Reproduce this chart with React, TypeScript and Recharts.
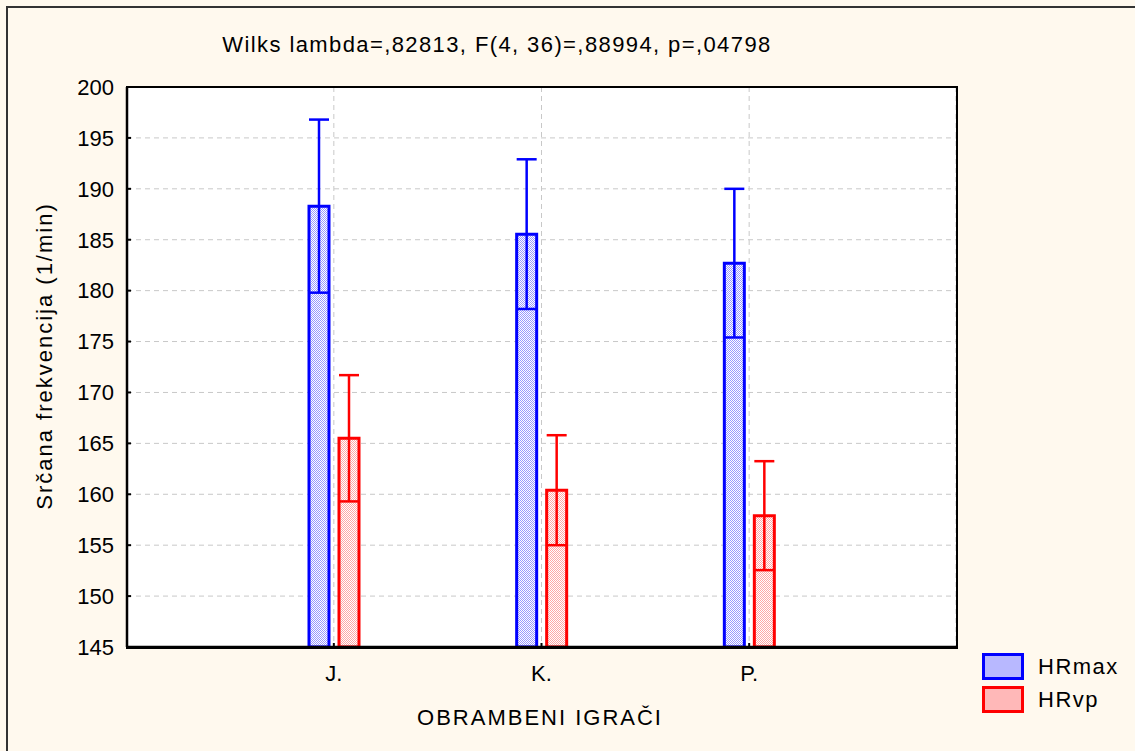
import { BarChart, Bar, XAxis, YAxis, CartesianGrid, ErrorBar } from 'recharts';

const categories = ['J.', 'K.', 'P.'];
const hrMax = [188.3, 185.55, 182.7];
const hrMaxErr = [8.5, 7.35, 7.3];
const hrVp = [165.5, 160.4, 157.9];
const hrVpErr = [6.2, 5.4, 5.35];
const yTicks = [145, 150, 155, 160, 165, 170, 175, 180, 185, 190, 195, 200];
const seriesNames = ['HRmax', 'HRvp'];
const seriesColors = ['#0000ff', '#ff0000'];
const swatchFills = ['#b8b8ff', '#ffb8b8'];

const title = 'Wilks lambda=,82813, F(4, 36)=,88994, p=,04798';
const yLabel = 'Srčana frekvencija (1/min)';
const xLabel = 'OBRAMBENI IGRAČI';

const FONT = '"Liberation Sans", Arial, sans-serif';

const data = categories.map((name, i) => ({
  name,
  hrMax: hrMax[i],
  hrMaxErr: hrMaxErr[i],
  hrVp: hrVp[i],
  hrVpErr: hrVpErr[i],
}));

function Swatch({ color, fill }: { color: string; fill: string }) {
  return (
    <svg width={42} height={27} style={{ display: 'block' }}>
      <rect x={1.5} y={1.5} width={39} height={24} fill={fill} stroke={color} strokeWidth={3} />
    </svg>
  );
}

export default function App() {
  return (
    <div
      style={{
        position: 'absolute',
        left: 0,
        top: 0,
        width: 1135,
        height: 751,
        background: '#fff9ee',
        overflow: 'hidden',
        fontFamily: FONT,
        color: '#000',
      }}
    >
      {/* outer frame */}
      <div
        style={{
          position: 'absolute',
          left: 6,
          top: 6,
          width: 1200,
          height: 800,
          borderLeft: '2px solid #333',
          borderTop: '2px solid #333',
        }}
      />
      <div style={{ position: 'absolute', left: 0, top: 0 }}>
        <BarChart
          width={1135}
          height={751}
          data={data}
          margin={{ top: 87, right: 179, bottom: 64, left: 67 }}
          barSize={20}
          barGap={10}
        >
          <defs>
            <pattern id="patBlue" width={2} height={2} patternUnits="userSpaceOnUse">
              <rect width={2} height={2} fill="#fff" />
              <rect width={1} height={1} fill="#0000ff" fillOpacity={0.4} />
              <rect x={1} y={1} width={1} height={1} fill="#0000ff" fillOpacity={0.4} />
            </pattern>
            <pattern id="patRed" width={2} height={2} patternUnits="userSpaceOnUse">
              <rect width={2} height={2} fill="#fff" />
              <rect width={1} height={1} fill="#ff0000" fillOpacity={0.35} />
              <rect x={1} y={1} width={1} height={1} fill="#ff0000" fillOpacity={0.35} />
            </pattern>
          </defs>
          <CartesianGrid stroke="#c8c8c8" strokeDasharray="5 4" fill="#ffffff" />
          <XAxis
            dataKey="name"
            padding={{ left: 103, right: 103 }}
            height={40}
            tickSize={-4}
            tickMargin={22}
            tickLine={{ stroke: '#000', strokeWidth: 2 }}
            axisLine={{ stroke: '#000', strokeWidth: 2.5 }}
            tick={{ fill: '#000', fontSize: 22, fontFamily: FONT }}
          />
          <YAxis
            domain={[145, 200]}
            ticks={yTicks}
            allowDataOverflow
            width={60}
            tickSize={-4}
            tickMargin={17}
            tickLine={{ stroke: '#000', strokeWidth: 2 }}
            axisLine={{ stroke: '#000', strokeWidth: 2.5 }}
            tick={{ fill: '#000', fontSize: 22, fontFamily: FONT }}
          />
          <Bar
            dataKey="hrMax"
            name={seriesNames[0]}
            fill="url(#patBlue)"
            stroke={seriesColors[0]}
            strokeWidth={3}
            isAnimationActive={false}
          >
            <ErrorBar dataKey="hrMaxErr" direction="y" width={10} stroke={seriesColors[0]} strokeWidth={2.5} />
          </Bar>
          <Bar
            dataKey="hrVp"
            name={seriesNames[1]}
            fill="url(#patRed)"
            stroke={seriesColors[1]}
            strokeWidth={3}
            isAnimationActive={false}
          >
            <ErrorBar dataKey="hrVpErr" direction="y" width={10} stroke={seriesColors[1]} strokeWidth={2.5} />
          </Bar>
        </BarChart>
      </div>

      {/* plot frame */}
      <div
        style={{
          position: 'absolute',
          left: 126,
          top: 86,
          width: 828,
          height: 559,
          border: '2px solid #000',
          boxSizing: 'content-box',
          pointerEvents: 'none',
        }}
      />

      {/* title */}
      <div
        style={{
          position: 'absolute',
          left: 97,
          top: 33,
          width: 800,
          textAlign: 'center',
          fontSize: 22,
          letterSpacing: 1.4,
          lineHeight: '24px',
          whiteSpace: 'nowrap',
        }}
      >
        {title}
      </div>

      {/* y label */}
      <div
        style={{
          position: 'absolute',
          left: 45 - 200,
          top: 356 - 12,
          width: 400,
          height: 24,
          lineHeight: '24px',
          textAlign: 'center',
          fontSize: 22,
          letterSpacing: 2,
          transform: 'rotate(-90deg)',
          whiteSpace: 'nowrap',
        }}
      >
        {yLabel}
      </div>

      {/* x label */}
      <div
        style={{
          position: 'absolute',
          left: 340,
          top: 706,
          width: 400,
          textAlign: 'center',
          fontSize: 22,
          letterSpacing: 2,
          lineHeight: '24px',
          whiteSpace: 'nowrap',
        }}
      >
        {xLabel}
      </div>

      {/* legend */}
      <div style={{ position: 'absolute', left: 982, top: 650 }}>
        {seriesNames.map((n, i) => (
          <div key={n} style={{ display: 'flex', alignItems: 'center', height: 33 }}>
            <Swatch color={seriesColors[i]} fill={swatchFills[i]} />
            <span style={{ marginLeft: 14, fontSize: 22, letterSpacing: 1.5 }}>{n}</span>
          </div>
        ))}
      </div>
    </div>
  );
}
